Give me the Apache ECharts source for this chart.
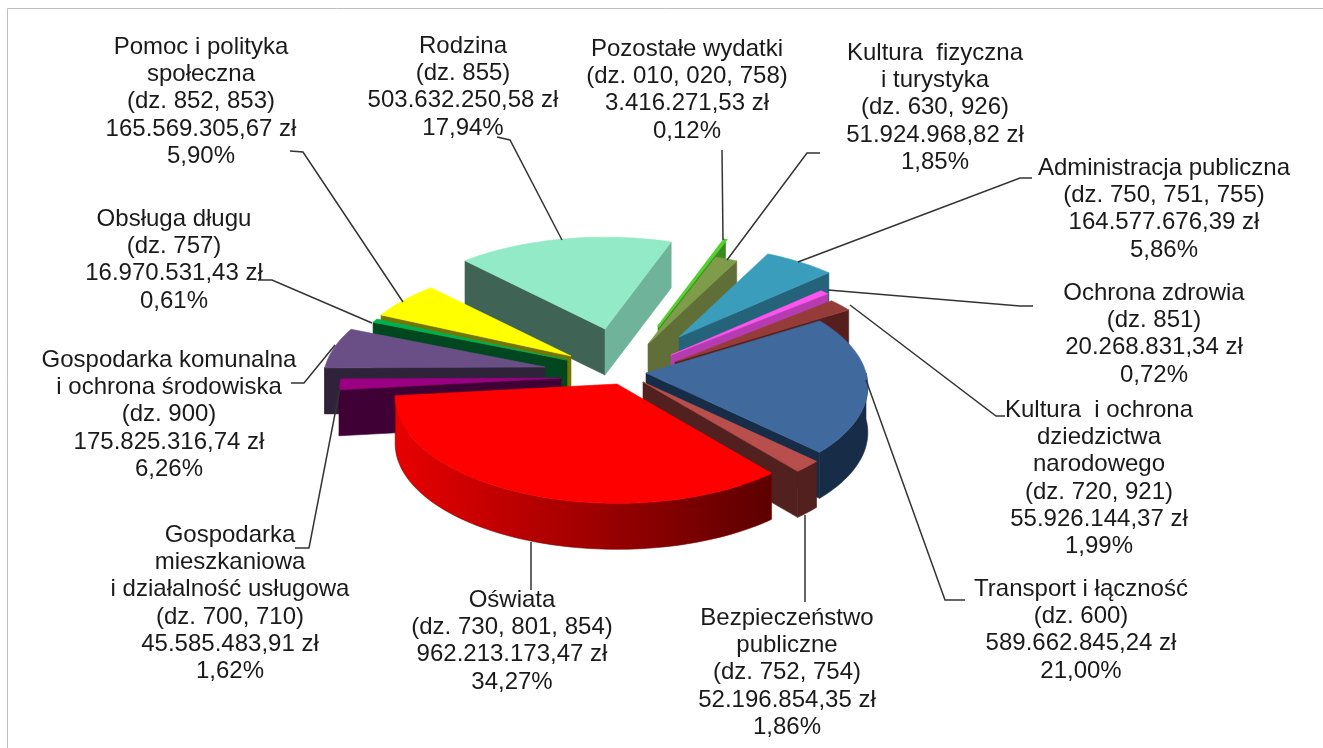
<!DOCTYPE html>
<html><head><meta charset="utf-8">
<style>html,body{margin:0;padding:0;background:#fff}#c{width:1323px;height:748px}</style>
<script src="https://cdn.jsdelivr.net/npm/echarts@6/dist/echarts.min.js"></script>
</head><body><div id="c"></div>
<script>
// ---- data, clockwise from the Transport slice ----
const titles = [
  'Transport i łączność\n(dz. 600)',
  'Bezpieczeństwo\npubliczne\n(dz. 752, 754)',
  'Oświata\n(dz. 730, 801, 854)',
  'Gospodarka\nmieszkaniowa\ni działalność usługowa\n(dz. 700, 710)',
  'Gospodarka komunalna\ni ochrona środowiska\n(dz. 900)',
  'Obsługa długu\n(dz. 757)',
  'Pomoc i polityka\nspołeczna\n(dz. 852, 853)',
  'Rodzina\n(dz. 855)',
  'Pozostałe wydatki\n(dz. 010, 020, 758)',
  'Kultura  fizyczna\ni turystyka\n(dz. 630, 926)',
  'Administracja publiczna\n(dz. 750, 751, 755)',
  'Ochrona zdrowia\n(dz. 851)',
  'Kultura  i ochrona\ndziedzictwa\nnarodowego\n(dz. 720, 921)'
];
const amounts = [589662845.24, 52196854.35, 962213173.47, 45585483.91, 175825316.74, 16970531.43,
  165569305.67, 503632250.58, 3416271.53, 51924968.82, 164577676.39, 20268831.34, 55926144.37];
const percents = ['21,00%','1,86%','34,27%','1,62%','6,26%','0,61%','5,90%','17,94%','0,12%','1,85%','5,86%','0,72%','1,99%'];

// ---- styling ----
const topColors  = ['#40699e','#b84f4c','#ff0000','#9c0082','#6a4f86','#00b050','#ffff00','#92ebc6','#55d02f','#7f9c4a','#3a9dbb','#ff55ee','#953c39'];
const wallColors = ['#172d47','#52201e','#c00000','#3f0035','#2f2339','#00471f','#757500','#3f6355','#3a8a20','#606f38','#25637a','#b43cb0','#561e1c'];
const endWallColors = {7:'#6eb39a'};
const drawOrder = [7,8,9,10,11,12,0,1,6,5,4,3,2];

// ---- projection ----
const centre = [622,358], kx = 1.1, ky = 0.528, baseR = 200, bulge = 0.13, depth = 46, firstAngle = 58;
// how far each slice's tip is pulled out of the centre, px on screen
const pull = [[24,15],[21,24],[-5,26],[-61,20],[-77,9],[-55,2],[-51,-2],[-17,-29],[36,-31],[26,-14],[57,-21],[49,-3],[53,4]];

// ---- label layout: centre x, first line centre y ----
const labelAt = [[1081,589],[787,618],[512,600],[230,535],[169,360],[174,219],[201,47],[463,46],[687,49],[935,53],[1164,168],[1154,293],[1099,410]];
const leaders = [
 [[965,600],[945,600],[866,380]],
 [[805,515],[805,602]],
 [[531,542],[531,590]],
 [[295,548],[309,548],[340,388]],
 [[291,383],[304,383],[335,345]],
 [[258,280],[272,280],[372,323]],
 [[290,151],[303,152],[403,302]],
 [[497,137],[510,140],[562,240]],
 [[722,150],[723,240]],
 [[820,153],[807,153],[727,260]],
 [[1032,178],[1020,178],[798,262]],
 [[1033,306],[1020,306],[828,290]],
 [[1005,416],[996,416],[850,305]]
];
const lineHeight = 27.3, labelFont = '24px "Liberation Sans", Arial, sans-serif';

const total = amounts.reduce((a,b)=>a+b,0);
const fmt = v => { const [i,d] = v.toFixed(2).split('.'); return i.replace(/\B(?=(\d{3})+$)/g,'.') + ',' + d + ' zł'; };
const rad = a => a*Math.PI/180;
const starts = []; { let a = firstAngle; amounts.forEach(v=>{ starts.push(a); a += v/total*360; }); }
const spans = amounts.map(v=>v/total*360);

function rimPoint(idx, ang, drop){
  const r = baseR*(1 - bulge*Math.cos(rad(ang)));
  return [centre[0]+pull[idx][0]+r*Math.sin(rad(ang))*kx,
          centre[1]+pull[idx][1]-r*Math.cos(rad(ang))*ky+drop];
}
function tip(idx, drop){ return [centre[0]+pull[idx][0], centre[1]+pull[idx][1]+drop]; }
function arc(idx,a,b,drop){
  const pts=[], n=Math.max(1,Math.ceil((b-a)/1.5));
  for(let i=0;i<=n;i++) pts.push(rimPoint(idx,a+(b-a)*i/n,drop));
  return pts;
}
const poly = (points, fill, width) => ({type:'polygon',shape:{points},style:{fill,stroke:typeof fill==='string'?fill:'#7a0000',lineWidth:width||0.6}});

function renderSlice(params, api){
  const idx = api.value(0), s = api.value(1), span = api.value(2), e = s+span;
  const kids = [];
  const wallFill = wallColors[idx];
  if(Math.cos(rad(s-90))<0) kids.push(poly([tip(idx,0),rimPoint(idx,s,0),rimPoint(idx,s,depth),tip(idx,depth)],wallFill));
  if(Math.cos(rad(e+90))<0) kids.push(poly([tip(idx,0),rimPoint(idx,e,0),rimPoint(idx,e,depth),tip(idx,depth)],endWallColors[idx]||wallFill));
  for(let k=0;k<2;k++){
    const a=Math.max(s+k*360,90), b=Math.min(e+k*360,270);
    if(b>a){
      const fill = idx===2 ? {type:'linear',x:0,y:0,x2:1,y2:0,colorStops:[{offset:0,color:'#e80000'},{offset:1,color:'#5c0000'}]} : wallFill;
      kids.push(poly(arc(idx,a,b,0).concat(arc(idx,a,b,depth).reverse()),fill));
    }
  }
  kids.push(poly([tip(idx,0)].concat(arc(idx,s,e,0)),topColors[idx], span<1?2.5:0.6));
  return {type:'group',children:kids};
}

const graphics = [
  {type:'line',silent:true,shape:{x1:7.5,y1:8.5,x2:1323,y2:8.5},style:{stroke:'#bfbfbf',lineWidth:1}},
  {type:'line',silent:true,shape:{x1:7.5,y1:8.5,x2:7.5,y2:748},style:{stroke:'#bfbfbf',lineWidth:1}}
];
leaders.forEach(p=>graphics.push({type:'polyline',silent:true,z:50,shape:{points:p},style:{fill:null,stroke:'#333333',lineWidth:1.5}}));
titles.forEach((t,i)=>graphics.push({type:'text',silent:true,z:60,x:labelAt[i][0],y:labelAt[i][1]-lineHeight/2,
  style:{text:t+'\n'+fmt(amounts[i])+'\n'+percents[i],font:labelFont,fill:'#1a1a1a',align:'center',verticalAlign:'top',lineHeight:lineHeight}}));

const chart = echarts.init(document.getElementById('c'),null,{renderer:'canvas'});
chart.setOption({
  animation:false,
  backgroundColor:'#ffffff',
  series:[{type:'custom',coordinateSystem:'none',silent:true,renderItem:renderSlice,
    data:drawOrder.map(i=>[i,starts[i],spans[i]])}],
  graphic:graphics
});
</script></body></html>
